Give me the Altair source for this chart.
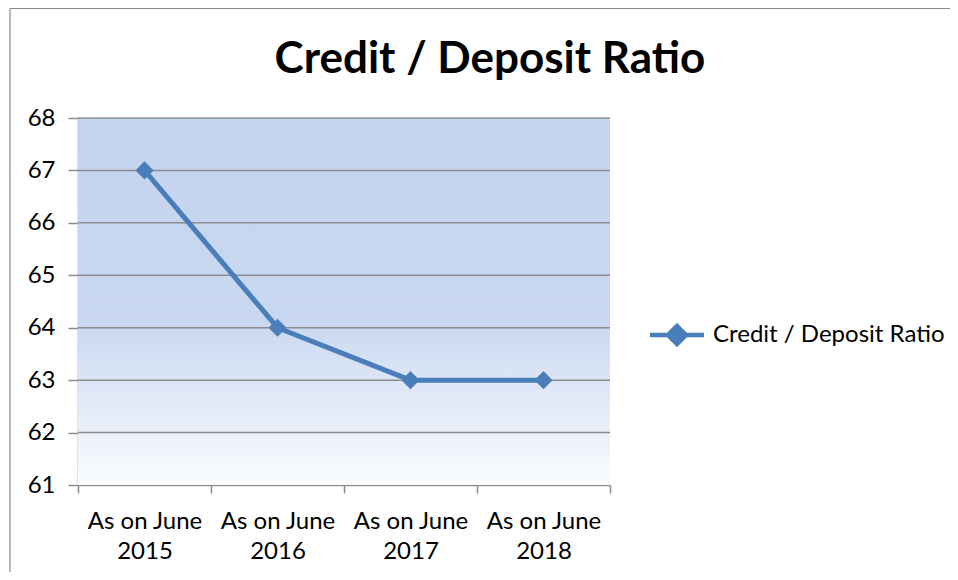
import altair as alt
import pandas as pd

categories = ["As on June|2015", "As on June|2016", "As on June|2017", "As on June|2018"]
ratio = [67, 64, 63, 63]
series_name = "Credit / Deposit Ratio"
y_ticks = [61, 62, 63, 64, 65, 66, 67, 68]
title_text = ["Credit / Deposit Ratio"]

FONT = "Lato"
BLUE = "#4a7ebb"
GRID = "#8c8c8c"
FS = 24

df = pd.DataFrame({"period": categories, "value": ratio, "series": [series_name] * len(ratio)})
bg_df = pd.DataFrame({"lo": [min(y_ticks)], "hi": [max(y_ticks)]})
grid_df = pd.DataFrame({"v": y_ticks[1:]})
title_df = pd.DataFrame({"t": title_text})

yscale = alt.Scale(domain=[min(y_ticks), max(y_ticks)], nice=False, zero=False)

bg = alt.Chart(bg_df).mark_rect(
    color=alt.LinearGradient(
        gradient="linear", x1=0, y1=0, x2=0, y2=1,
        stops=[alt.GradientStop(color="#c4d4ee", offset=0),
               alt.GradientStop(color="#c9d8f0", offset=0.55),
               alt.GradientStop(color="#fafcff", offset=1)]
    )
).encode(
    y=alt.Y("hi:Q", scale=yscale),
    y2="lo:Q",
)

grid = alt.Chart(grid_df).mark_rule(color=GRID, strokeWidth=1.5).encode(
    y=alt.Y("v:Q", scale=yscale)
)

xenc = alt.X(
    "period:N", sort=categories, title=None, bandPosition=0.5,
    scale=alt.Scale(type="band", paddingInner=0, paddingOuter=0),
    axis=alt.Axis(
        labelExpr="split(datum.label, '|')", labelAngle=0, labelFontSize=FS,
        labelFont=FONT, labelColor="#000000", labelLineHeight=30,
        tickBand="extent", tickSize=8, tickColor=GRID, tickWidth=1.5,
        domainColor=GRID, domainWidth=1.5, labelPadding=16, grid=False,
    ),
)
yenc = alt.Y(
    "value:Q", scale=yscale, title=None,
    axis=alt.Axis(values=y_ticks, format="d", grid=False, labelFontSize=FS, labelFont=FONT,
                  labelColor="#000000", tickSize=10, tickColor=GRID, tickWidth=1.5,
                  domainColor=GRID, domainWidth=1.5, labelPadding=13),
)
color = alt.Color(
    "series:N", scale=alt.Scale(domain=[series_name], range=[BLUE]), title=None,
    legend=alt.Legend(
        orient="none", legendX=572, legendY=205,
        symbolType="M-3,0L3,0M0,-1L1,0L0,1L-1,0Z",
        symbolSize=324, symbolStrokeWidth=4.5, symbolFillColor=BLUE,
        symbolStrokeColor=BLUE, symbolOffset=15, labelOffset=24, labelLimit=0,
        labelFontSize=FS, labelFont=FONT, labelColor="#000000",
    ),
)

line = alt.Chart(df).mark_line(strokeWidth=5, color=BLUE).encode(x=xenc, y=yenc, color=color)
pts = alt.Chart(df).mark_point(shape="diamond", filled=True, size=330, opacity=1, color=BLUE).encode(
    x=xenc, y=yenc, color=color
)

title = alt.Chart(title_df).mark_text(
    font=FONT, fontSize=44, fontWeight="bold", color="#000000",
    align="center", baseline="alphabetic"
).encode(text="t:N", x=alt.value(412), y=alt.value(-45))

border_v = alt.Chart(bg_df).mark_rule(color="#8a8a8a", strokeWidth=1.2).encode(
    x=alt.value(-68), y=alt.value(-109.5), y2=alt.value(500)
)
border_h = alt.Chart(bg_df).mark_rule(color="#8a8a8a", strokeWidth=1.2).encode(
    x=alt.value(-68), x2=alt.value(900), y=alt.value(-109.5)
)

chart = alt.layer(bg, grid, line, pts, title, border_v, border_h).properties(
    width=532, height=367,
    autosize=alt.AutoSizeParams(type="none"),
    padding={"left": 70, "top": 110, "right": 340, "bottom": 87},
).configure_view(stroke=None)

chart.save("out.html", embed_options={"renderer": "svg", "actions": False})
